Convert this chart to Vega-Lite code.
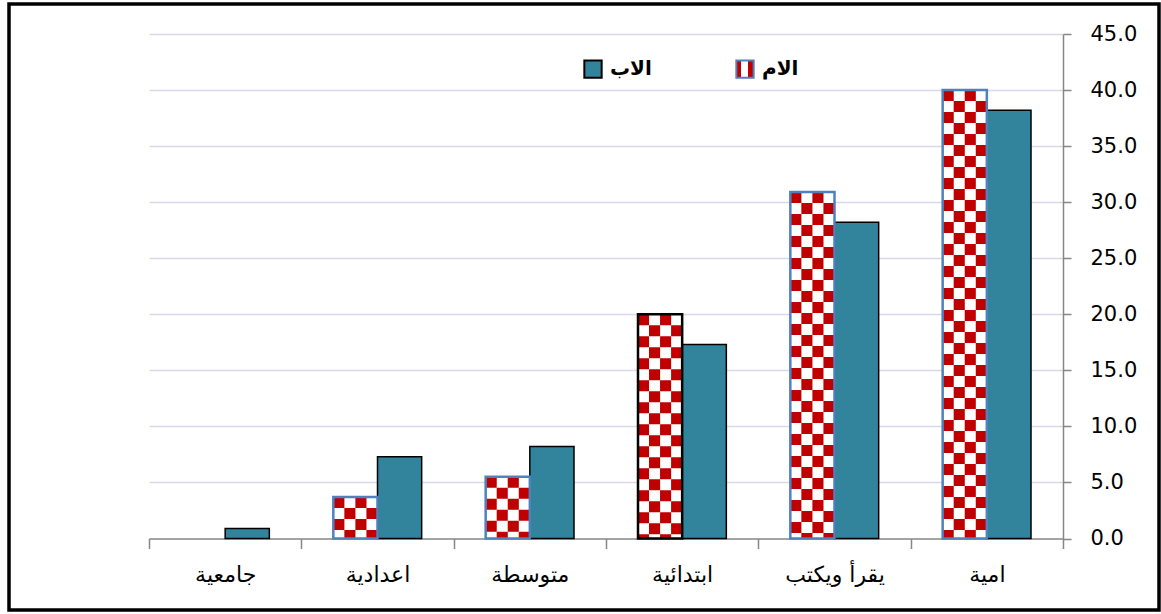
{
  "$schema": "https://vega.github.io/schema/vega-lite/v6.json",
  "width": 1150,
  "height": 606,
  "autosize": {"type": "none"},
  "padding": {"left": 9, "top": 4, "right": 2, "bottom": 4},
  "background": "#ffffff",
  "config": {
    "view": {"stroke": "#000000", "strokeWidth": 3.5},
    "font": "DejaVu Sans"
  },
  "data": {
    "values": [
      {"level": "جامعية", "parent": "الام", "value": 0},
      {"level": "جامعية", "parent": "الاب", "value": 0.9},
      {"level": "اعدادية", "parent": "الام", "value": 3.7},
      {"level": "اعدادية", "parent": "الاب", "value": 7.3},
      {"level": "متوسطة", "parent": "الام", "value": 5.5},
      {"level": "متوسطة", "parent": "الاب", "value": 8.2},
      {"level": "ابتدائية", "parent": "الام", "value": 20.0},
      {"level": "ابتدائية", "parent": "الاب", "value": 17.3},
      {"level": "يقرأ ويكتب", "parent": "الام", "value": 30.9},
      {"level": "يقرأ ويكتب", "parent": "الاب", "value": 28.2},
      {"level": "امية", "parent": "الام", "value": 40.0},
      {"level": "امية", "parent": "الاب", "value": 38.2}
    ]
  },
  "encoding": {
    "x": {
      "field": "level", "type": "nominal",
      "scale": {"domain": ["جامعية", "اعدادية", "متوسطة", "ابتدائية", "يقرأ ويكتب", "امية"], "range": [140, 1054], "paddingInner": 0, "paddingOuter": 0},
      "axis": {"title": null, "orient": "bottom", "offset": -71.5, "tickBand": "extent", "tickSize": 10, "tickColor": "#868686", "tickWidth": 1.5, "domainColor": "#868686", "domainWidth": 1.5, "labelAngle": 0, "labelFont": "DejaVu Sans", "labelFontSize": 22, "labelColor": "#000000", "labelPadding": 16, "grid": false}
    }
  },
  "resolve": {"axis": {"y": "independent"}},
  "layer": [
    {
      "transform": [{"filter": "datum.parent === 'الاب'"}],
      "mark": {"type": "bar", "strokeWidth": 1.5},
      "encoding": {
        "y": {
          "field": "value", "type": "quantitative",
          "scale": {"domain": [0, 45], "range": [534.5, 30], "nice": false, "zero": true},
          "axis": {"title": null, "orient": "left", "offset": 0, "values": [5, 10, 15, 20, 25, 30, 35, 40, 45], "labels": false, "ticks": false, "domain": false, "grid": true, "gridColor": "#dcd6ea", "gridWidth": 1.5}
        },
        "xOffset": {"field": "parent", "type": "nominal", "scale": {"domain": ["الام", "الاب"], "paddingInner": 0, "paddingOuter": 0.7244}},
        "fill": {
          "field": "parent", "type": "nominal",
          "scale": {"domain": ["الاب", "الام"], "range": ["#31849b", {"expr": "{gradient: 'linear', x1: 0, y1: 0, x2: 1, y2: 0, stops: [{offset: 0, color: '#c00000'}, {offset: 0.25, color: '#c00000'}, {offset: 0.25, color: '#ffffff'}, {offset: 0.7, color: '#ffffff'}, {offset: 0.7, color: '#c00000'}, {offset: 1, color: '#c00000'}]}"}]},
          "legend": {
            "title": null, "orient": "none", "legendX": 574, "legendY": 55, "direction": "horizontal",
            "symbolType": "square", "symbolSize": 300, "labelFont": "DejaVu Sans", "labelFontSize": 20, "labelFontWeight": "bold", "labelColor": "#000000",
            "columnPadding": 80, "labelOffset": 7, "padding": 0, "symbolStrokeWidth": 2
          }
        },
        "stroke": {
          "field": "parent", "type": "nominal",
          "scale": {"domain": ["الاب", "الام"], "range": ["#000000", "#4f81bd"]},
          "legend": {
            "title": null, "orient": "none", "legendX": 574, "legendY": 55, "direction": "horizontal",
            "symbolType": "square", "symbolSize": 300, "labelFont": "DejaVu Sans", "labelFontSize": 20, "labelFontWeight": "bold", "labelColor": "#000000",
            "columnPadding": 80, "labelOffset": 7, "padding": 0, "symbolStrokeWidth": 2
          }
        }
      }
    },
    {
      "transform": [{"filter": "datum.parent === 'الام' && datum.value > 0"}],
      "mark": {"type": "bar", "fill": "#ffffff", "strokeWidth": 0},
      "encoding": {
        "y": {"field": "value", "type": "quantitative", "axis": null},
        "xOffset": {"field": "parent", "type": "nominal", "scale": {"domain": ["الام", "الاب"], "paddingInner": 0, "paddingOuter": 0.7244}}
      }
    },
    {
      "transform": [{"filter": "datum.parent === 'الام' && datum.value > 0"}],
      "mark": {"type": "rule", "color": "#c00000", "strokeWidth": 11.1, "strokeDash": [11, 11], "strokeDashOffset": 0, "strokeCap": "butt"},
      "encoding": {
        "x": {"field": "level", "type": "nominal", "bandPosition": 0.24629},
        "y": {"field": "value", "type": "quantitative", "axis": null},
        "y2": {"datum": 0}
      }
    },
    {
      "transform": [{"filter": "datum.parent === 'الام' && datum.value > 0"}],
      "mark": {"type": "rule", "color": "#c00000", "strokeWidth": 11.1, "strokeDash": [11, 11], "strokeDashOffset": 11, "strokeCap": "butt"},
      "encoding": {
        "x": {"field": "level", "type": "nominal", "bandPosition": 0.31878},
        "y": {"field": "value", "type": "quantitative", "axis": null},
        "y2": {"datum": 0}
      }
    },
    {
      "transform": [{"filter": "datum.parent === 'الام' && datum.value > 0"}],
      "mark": {"type": "rule", "color": "#c00000", "strokeWidth": 11.1, "strokeDash": [11, 11], "strokeDashOffset": 0, "strokeCap": "butt"},
      "encoding": {
        "x": {"field": "level", "type": "nominal", "bandPosition": 0.39127},
        "y": {"field": "value", "type": "quantitative", "axis": null},
        "y2": {"datum": 0}
      }
    },
    {
      "transform": [{"filter": "datum.parent === 'الام' && datum.value > 0"}],
      "mark": {"type": "rule", "color": "#c00000", "strokeWidth": 11.1, "strokeDash": [11, 11], "strokeDashOffset": 11, "strokeCap": "butt"},
      "encoding": {
        "x": {"field": "level", "type": "nominal", "bandPosition": 0.46376},
        "y": {"field": "value", "type": "quantitative", "axis": null},
        "y2": {"datum": 0}
      }
    },
    {
      "transform": [{"filter": "datum.parent === 'الام' && datum.value > 0"}],
      "mark": {"type": "bar", "fillOpacity": 0, "strokeWidth": 2.5},
      "encoding": {
        "y": {
          "field": "value", "type": "quantitative",
          "axis": {"title": null, "orient": "right", "offset": -96, "values": [0, 5, 10, 15, 20, 25, 30, 35, 40, 45], "format": ".1f", "tickSize": 8, "tickColor": "#868686", "tickWidth": 1.5, "domainColor": "#868686", "domainWidth": 1.5, "labelFont": "DejaVu Sans", "labelFontSize": 21, "labelColor": "#000000", "labelPadding": 19, "grid": false}
        },
        "xOffset": {"field": "parent", "type": "nominal", "scale": {"domain": ["الام", "الاب"], "paddingInner": 0, "paddingOuter": 0.7244}},
        "stroke": {"condition": {"test": "datum.level === 'ابتدائية'", "value": "#000000"}, "value": "#4f81bd"}
      }
    }
  ]
}
